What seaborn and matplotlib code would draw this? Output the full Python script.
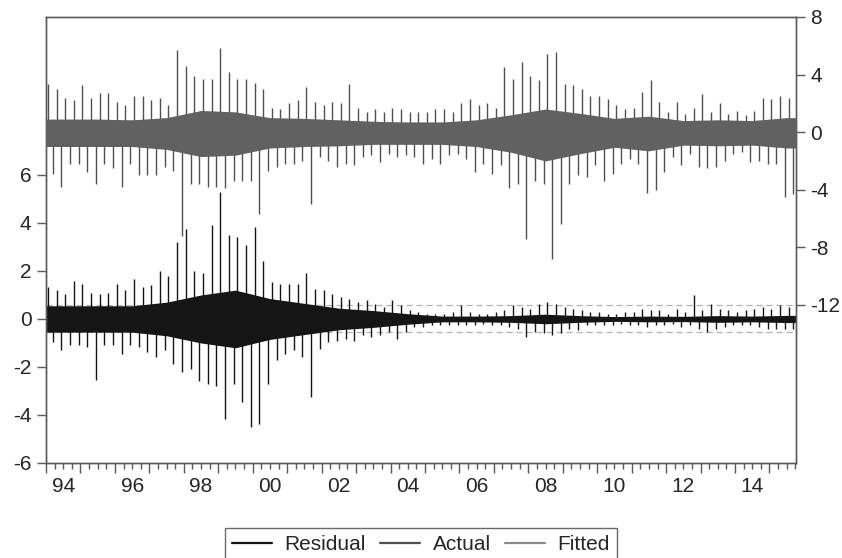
import numpy as np
import matplotlib
matplotlib.use('Agg')
import matplotlib.pyplot as plt
from matplotlib.lines import Line2D
import seaborn as sns

sns.set_style("ticks")
plt.rcParams['font.family'] = ['Liberation Sans', 'DejaVu Sans']
plt.rcParams['axes.unicode_minus'] = False

# ── colours ───────────────────────────────────────────
RES_C = "#151515"
ACT_C = "#505050"
FIT_C = "#8a8a8a"
SE_C  = "#b4b4b4"
AXIS_C = "#5a5a5a"

# ── data ──────────────────────────────────────────────
# quarterly extremes, 1994Q1 .. 2015Q3
start_year = 1994
end_t = 2015.77

actual_max = [3.36, 3.0, 2.4, 2.2,     # 1994
              3.24, 2.4, 2.7, 2.7,     # 1995
              2.1, 1.85, 2.5, 2.5,     # 1996
              2.2, 2.4, 1.85, 5.7,     # 1997
              4.6, 3.9, 3.7, 3.7,      # 1998
              5.86, 4.2, 3.7, 3.7,     # 1999
              3.4, 3.0, 1.7, 1.6,      # 2000
              2.0, 2.2, 3.1, 2.1,      # 2001
              1.85, 2.1, 2.0, 3.36,    # 2002
              1.7, 1.4, 1.6, 1.4,      # 2003
              1.7, 1.6, 1.4, 1.4,      # 2004
              1.4, 1.6, 1.6, 1.4,      # 2005
              2.0, 2.3, 1.85, 2.0,     # 2006
              1.7, 4.5, 3.7, 4.9,      # 2007
              3.9, 3.6, 5.4, 5.6,      # 2008
              3.36, 3.24, 3.0, 2.5,    # 2009
              2.5, 2.3, 1.85, 1.6,     # 2010
              1.7, 2.8, 3.6, 2.1,      # 2011
              1.4, 2.1, 1.27, 1.7,     # 2012
              2.66, 1.4, 2.0, 1.27,    # 2013
              1.5, 1.16, 1.5, 2.4,     # 2014
              2.3, 2.5, 2.4]           # 2015

actual_min = [-2.9, -3.8, -2.2, -2.2,
              -2.8, -3.6, -2.2, -2.5,
              -3.8, -2.2, -3.0, -3.0,
              -3.0, -2.4, -2.7, -7.2,
              -3.6, -3.6, -3.8, -3.8,
              -3.9, -3.4, -3.4, -3.4,
              -5.7, -2.7, -2.4, -2.2,
              -2.2, -2.0, -5.0, -1.7,
              -2.0, -2.4, -2.2, -2.3,
              -1.7, -1.6, -2.1, -1.5,
              -1.7, -1.6, -1.7, -2.2,
              -1.85, -2.2, -1.6, -1.5,
              -1.85, -2.8, -2.2, -2.9,
              -2.3, -3.9, -3.6, -7.4,
              -3.4, -3.6, -8.8, -6.4,
              -3.6, -3.0, -3.1, -2.3,
              -3.4, -2.9, -2.2, -1.85,
              -2.2, -4.2, -4.0, -2.8,
              -1.7, -2.3, -1.5, -2.4,
              -2.5, -2.4, -2.0, -1.5,
              -1.4, -2.1, -2.0, -2.2,
              -2.2, -4.5, -4.3]

resid_max = [1.33, 1.2, 1.05, 1.6,
             1.47, 1.1, 1.05, 1.1,
             1.47, 1.2, 1.68, 1.33,
             1.4, 2.0, 1.8, 3.2,
             3.76, 2.0, 1.9, 3.9,
             5.3, 3.5, 3.4, 3.1,
             3.83, 2.4, 1.54, 1.47,
             1.47, 1.47, 1.9, 1.26,
             1.2, 1.05, 0.92, 0.85,
             0.7, 0.78, 0.64, 0.5,
             0.78, 0.57, 0.36, 0.3,
             0.22, 0.22, 0.22, 0.3,
             0.57, 0.3, 0.22, 0.22,
             0.3, 0.36, 0.57, 0.5,
             0.43, 0.64, 0.7, 0.64,
             0.5, 0.43, 0.36, 0.3,
             0.3, 0.22, 0.22, 0.3,
             0.3, 0.43, 0.36, 0.36,
             0.22, 0.43, 0.3, 1.0,
             0.36, 0.64, 0.43, 0.36,
             0.3, 0.36, 0.43, 0.5,
             0.43, 0.57, 0.5]

resid_min = [-0.96, -1.3, -1.1, -1.1,
             -1.17, -2.56, -1.1, -1.1,
             -1.45, -1.1, -1.17, -1.38,
             -1.6, -1.3, -1.86, -2.2,
             -2.07, -2.6, -2.7, -2.8,
             -4.15, -2.7, -3.46, -4.5,
             -4.36, -2.7, -1.7, -1.45,
             -1.3, -1.6, -3.25, -1.24,
             -0.96, -0.9, -0.82, -0.9,
             -0.68, -0.75, -0.68, -0.54,
             -0.82, -0.54, -0.33, -0.33,
             -0.26, -0.26, -0.26, -0.26,
             -0.26, -0.26, -0.2, -0.26,
             -0.26, -0.33, -0.4, -0.75,
             -0.54, -0.6, -0.68, -0.6,
             -0.4, -0.47, -0.26, -0.26,
             -0.26, -0.26, -0.2, -0.26,
             -0.26, -0.33, -0.26, -0.26,
             -0.2, -0.33, -0.26, -0.4,
             -0.54, -0.4, -0.33, -0.26,
             -0.26, -0.26, -0.33, -0.4,
             -0.4, -0.4, -0.4]

# yearly dense core of each series, 1994 .. 2015
core_years = list(range(1994, 2016))
actual_core_hi = [0.9, 0.9, 0.85, 1.0, 1.5, 1.4, 1.0, 0.95, 0.85, 0.75, 0.7,
                  0.7, 0.85, 1.2, 1.6, 1.3, 0.95, 1.1, 0.8, 0.85, 0.8, 1.0]
actual_core_lo = [-1.0, -1.0, -1.0, -1.2, -1.7, -1.6, -1.1, -1.0, -0.95, -0.85, -0.85,
                  -0.85, -1.0, -1.4, -2.0, -1.5, -1.05, -1.3, -0.9, -0.95, -0.9, -1.1]
resid_core = [0.55, 0.55, 0.55, 0.7, 1.0, 1.2, 0.85, 0.65, 0.45, 0.35, 0.22,
              0.12, 0.12, 0.14, 0.2, 0.14, 0.1, 0.12, 0.11, 0.14, 0.12, 0.15]

# +/- one standard error of the residual
se_hi = 0.57
se_lo = -0.54

# ── positions ─────────────────────────────────────────
tq = start_year + (np.arange(len(actual_max)) + 0.5) / 4
t_up = tq - 0.07       # upward spike of each quarter
t_dn = tq + 0.07       # downward spike of each quarter
xc = np.concatenate([[start_year], np.array(core_years) + 0.5, [end_t]])

def edge_pad(v):
    v = np.asarray(v, dtype=float)
    return np.concatenate([[v[0]], v, [v[-1]]])

# ── figure ────────────────────────────────────────────
fig = plt.figure(figsize=(8.42, 5.58), dpi=100)
ax = fig.add_axes([46 / 842, 1 - 463 / 558, 750 / 842, 446 / 558])
ax2 = ax.twinx()

# residual, left scale
for lvl in (se_hi, se_lo):
    sns.lineplot(x=[start_year, end_t], y=[lvl, lvl], ax=ax, color=SE_C,
                 linestyle=(0, (5, 3)), linewidth=0.9, legend=False, zorder=1)
rc = edge_pad(resid_core)
ax.fill_between(xc, -rc, rc, color=RES_C, linewidth=0, zorder=2)
ax.vlines(t_up, 0, resid_max, color=RES_C, linewidth=1.0, zorder=3)
ax.vlines(t_dn, resid_min, 0, color=RES_C, linewidth=1.0, zorder=3)

# actual & fitted, right scale
ax2.fill_between(xc, edge_pad(actual_core_lo), edge_pad(actual_core_hi),
                 color=ACT_C, linewidth=0, zorder=2)
ax2.vlines(t_up, 0, actual_max, color=ACT_C, linewidth=1.0, zorder=3)
ax2.vlines(t_dn, actual_min, 0, color=ACT_C, linewidth=1.0, zorder=3)
ax2.fill_between(xc, edge_pad(actual_core_lo), edge_pad(actual_core_hi),
                 color=FIT_C, alpha=0.3, linewidth=0, zorder=4)

# ── axes ──────────────────────────────────────────────
ax.set_xlim(start_year, end_t)
ax.set_ylim(-6, 12.58)
ax2.set_ylim(-23, 8)
ax.set_yticks(range(-6, 7, 2))
ax2.set_yticks(range(-12, 9, 4))
ax.set_xticks(np.arange(1994, 2016), labels=[])
ax.set_xticks(np.arange(1994, 2015.8, 0.25), minor=True)

for a in (ax, ax2):
    for s in a.spines.values():
        s.set_color(AXIS_C)
        s.set_linewidth(1.0)
ax.tick_params(axis='y', length=6.5, width=1, pad=4, labelsize=15, color=AXIS_C)
ax2.tick_params(axis='y', length=6.5, width=1, pad=4, labelsize=15, color=AXIS_C)
ax.tick_params(axis='x', which='major', length=7.5, width=1, color=AXIS_C)
ax.tick_params(axis='x', which='minor', length=4, width=1, color=AXIS_C)

for yr in range(1994, 2015, 2):
    ax.text(yr + 0.5, -24 / 446, f"{yr % 100:02d}", transform=ax.get_xaxis_transform(),
            ha='center', va='center', fontsize=15)

# ── legend ────────────────────────────────────────────
handles = [Line2D([], [], color=RES_C, lw=1.6),
           Line2D([], [], color=ACT_C, lw=1.6),
           Line2D([], [], color=FIT_C, lw=1.6)]
leg = fig.legend(handles, ['Residual', 'Actual', 'Fitted'], loc='upper center',
                 bbox_to_anchor=(0.5, 1 - 528 / 558), ncol=3, frameon=True,
                 fancybox=False, edgecolor='#444444', fontsize=15,
                 handlelength=1.9, handletextpad=0.6, columnspacing=0.7,
                 borderpad=0.35, borderaxespad=0)
leg.get_frame().set_linewidth(1.0)

fig.savefig("out.png", dpi=100)
plt.close(fig)
